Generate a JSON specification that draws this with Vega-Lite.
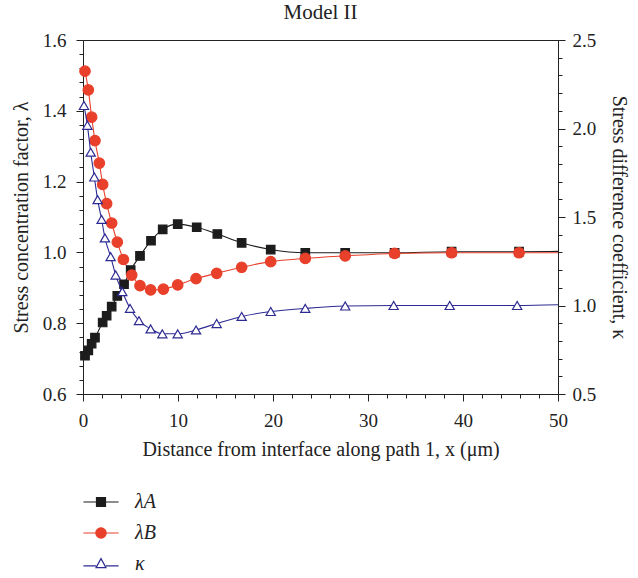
{
  "$schema": "https://vega.github.io/schema/vega-lite/v6.json",
  "width": 475,
  "height": 354,
  "autosize": {"type": "none"},
  "padding": {"left": 83, "top": 40, "right": 80, "bottom": 184},
  "background": "white",
  "title": {"text": "Model II", "font": "Liberation Serif", "fontSize": 21, "fontWeight": "normal", "color": "#222", "anchor": "middle", "offset": 8},
  "config": {
    "view": {"stroke": "#222", "strokeWidth": 1},
    "axis": {"grid": false, "domainColor": "#222", "tickColor": "#222", "labelFont": "Liberation Serif", "labelFontSize": 19, "labelColor": "#222", "titleFont": "Liberation Serif", "titleFontSize": 20, "titleFontWeight": "normal", "titleColor": "#222"}
  },
  "datasets": {
    "curves": [
      {"series": "λA", "x": 0.21, "v": 0.708, "sampled": true},
      {"series": "λA", "x": 0.56, "v": 0.723, "sampled": true},
      {"series": "λA", "x": 0.91, "v": 0.742, "sampled": true},
      {"series": "λA", "x": 1.26, "v": 0.759, "sampled": true},
      {"series": "λA", "x": 2.07, "v": 0.802, "sampled": true},
      {"series": "λA", "x": 2.49, "v": 0.821, "sampled": true},
      {"series": "λA", "x": 3.02, "v": 0.847, "sampled": true},
      {"series": "λA", "x": 3.61, "v": 0.877, "sampled": true},
      {"series": "λA", "x": 4.32, "v": 0.910, "sampled": true},
      {"series": "λA", "x": 5.02, "v": 0.950, "sampled": true},
      {"series": "λA", "x": 6.0, "v": 0.990, "sampled": true},
      {"series": "λA", "x": 7.16, "v": 1.033, "sampled": true},
      {"series": "λA", "x": 8.39, "v": 1.065, "sampled": true},
      {"series": "λA", "x": 9.97, "v": 1.080, "sampled": true},
      {"series": "λA", "x": 11.97, "v": 1.071, "sampled": true},
      {"series": "λA", "x": 14.14, "v": 1.052, "sampled": true},
      {"series": "λA", "x": 16.7, "v": 1.027, "sampled": true},
      {"series": "λA", "x": 19.76, "v": 1.008, "sampled": true},
      {"series": "λA", "x": 23.4, "v": 0.999, "sampled": true},
      {"series": "λA", "x": 27.6, "v": 0.999, "sampled": true},
      {"series": "λA", "x": 32.8, "v": 0.999, "sampled": true},
      {"series": "λA", "x": 38.8, "v": 1.002, "sampled": true},
      {"series": "λA", "x": 45.9, "v": 1.002, "sampled": true},
      {"series": "λA", "x": 50, "v": 1.003, "sampled": false},
      {"series": "λB", "x": 0.21, "v": 1.512, "sampled": true},
      {"series": "λB", "x": 0.56, "v": 1.459, "sampled": true},
      {"series": "λB", "x": 0.91, "v": 1.382, "sampled": true},
      {"series": "λB", "x": 1.26, "v": 1.316, "sampled": true},
      {"series": "λB", "x": 1.72, "v": 1.252, "sampled": true},
      {"series": "λB", "x": 2.07, "v": 1.192, "sampled": true},
      {"series": "λB", "x": 2.49, "v": 1.138, "sampled": true},
      {"series": "λB", "x": 3.02, "v": 1.083, "sampled": true},
      {"series": "λB", "x": 3.61, "v": 1.029, "sampled": true},
      {"series": "λB", "x": 4.25, "v": 0.980, "sampled": true},
      {"series": "λB", "x": 5.13, "v": 0.936, "sampled": true},
      {"series": "λB", "x": 6.0, "v": 0.906, "sampled": true},
      {"series": "λB", "x": 7.12, "v": 0.894, "sampled": true},
      {"series": "λB", "x": 8.46, "v": 0.896, "sampled": true},
      {"series": "λB", "x": 9.97, "v": 0.908, "sampled": true},
      {"series": "λB", "x": 11.9, "v": 0.926, "sampled": true},
      {"series": "λB", "x": 14.07, "v": 0.941, "sampled": true},
      {"series": "λB", "x": 16.7, "v": 0.958, "sampled": true},
      {"series": "λB", "x": 19.76, "v": 0.974, "sampled": true},
      {"series": "λB", "x": 23.4, "v": 0.983, "sampled": true},
      {"series": "λB", "x": 27.6, "v": 0.990, "sampled": true},
      {"series": "λB", "x": 32.8, "v": 0.997, "sampled": true},
      {"series": "λB", "x": 38.8, "v": 0.999, "sampled": true},
      {"series": "λB", "x": 45.9, "v": 0.999, "sampled": true},
      {"series": "λB", "x": 50, "v": 0.999, "sampled": false},
      {"series": "κ", "x": 0.1, "v": 2.13, "sampled": true},
      {"series": "κ", "x": 0.46, "v": 2.018, "sampled": true},
      {"series": "κ", "x": 0.81, "v": 1.866, "sampled": true},
      {"series": "κ", "x": 1.19, "v": 1.726, "sampled": true},
      {"series": "κ", "x": 1.54, "v": 1.598, "sampled": true},
      {"series": "κ", "x": 1.96, "v": 1.486, "sampled": true},
      {"series": "κ", "x": 2.31, "v": 1.382, "sampled": true},
      {"series": "κ", "x": 2.91, "v": 1.276, "sampled": true},
      {"series": "κ", "x": 3.44, "v": 1.172, "sampled": true},
      {"series": "κ", "x": 4.14, "v": 1.078, "sampled": true},
      {"series": "κ", "x": 4.95, "v": 0.984, "sampled": true},
      {"series": "κ", "x": 5.89, "v": 0.914, "sampled": true},
      {"series": "κ", "x": 7.12, "v": 0.868, "sampled": true},
      {"series": "κ", "x": 8.35, "v": 0.840, "sampled": true},
      {"series": "κ", "x": 9.97, "v": 0.840, "sampled": true},
      {"series": "κ", "x": 11.9, "v": 0.862, "sampled": true},
      {"series": "κ", "x": 14.07, "v": 0.898, "sampled": true},
      {"series": "κ", "x": 16.7, "v": 0.938, "sampled": true},
      {"series": "κ", "x": 19.76, "v": 0.966, "sampled": true},
      {"series": "κ", "x": 23.4, "v": 0.984, "sampled": true},
      {"series": "κ", "x": 27.6, "v": 0.997, "sampled": true},
      {"series": "κ", "x": 32.7, "v": 1.0, "sampled": true},
      {"series": "κ", "x": 38.6, "v": 1.0, "sampled": true},
      {"series": "κ", "x": 45.7, "v": 1.0, "sampled": true},
      {"series": "κ", "x": 50, "v": 1.004, "sampled": false}
    ]
  },
  "data": {"name": "curves"},
  "encoding": {
    "x": {"field": "x", "type": "quantitative", "scale": {"domain": [0, 50], "nice": false, "zero": false},
      "axis": {"title": "Distance from interface along path 1, x (μm)", "values": [0,2,4,6,8,10,12,14,16,18,20,22,24,26,28,30,32,34,36,38,40,42,44,46,48,50],
        "labelOverlap": false, "labelBound": false, "labelFlush": false,
        "labelExpr": "datum.value % 10 === 0 ? datum.label : ''", "tickSize": {"condition": {"test": "datum.value % 10 === 0", "value": 7}, "value": 4}, "labelPadding": 10, "titlePadding": 9}},
    "color": {"field": "series", "type": "nominal", "scale": {"domain": ["λA", "λB", "κ"], "range": ["#1c1c1c", "#e8402b", "#2d2a92"]},
      "legend": {"orient": "none", "legendX": 8, "legendY": 452, "direction": "vertical", "title": null,
        "symbolSize": 81, "symbolStrokeWidth": 1.2, "rowPadding": 11, "labelOffset": 24,
        "labelFont": "Liberation Serif", "labelFontSize": 20, "labelFontStyle": "italic", "labelColor": "#222",
        "encode": {"symbols": {"update": {
          "shape": {"signal": "datum.value === 'λA' ? 'M-3.9,0H-1M1,0H3.9M-1,-1H1V1H-1Z' : datum.value === 'λB' ? 'M-3.9,0H-1.15M1.15,0H3.9M-1.15,0A1.15,1.15,0,1,0,1.15,0A1.15,1.15,0,1,0,-1.15,0Z' : 'M-3.9,0.4H-1.1M1.1,0.4H3.9M0,-1.2L1.1,0.8H-1.1Z'"},
          "fill": {"signal": "datum.value === 'κ' ? '#ffffff' : datum.value === 'λB' ? '#e8402b' : '#1c1c1c'"},
          "stroke": {"signal": "datum.value === 'κ' ? '#2d2a92' : datum.value === 'λB' ? '#e8402b' : '#1c1c1c'"},
          "strokeWidth": {"value": 1.2}
        }}}
      }}
  },
  "layer": [
    {
      "transform": [{"filter": "datum.series !== 'κ'"}],
      "encoding": {
        "y": {"field": "v", "type": "quantitative", "scale": {"domain": [0.6, 1.6], "nice": false, "zero": false},
          "axis": {"title": "Stress concentration factor, λ", "format": ".1f", "labelOverlap": false, "labelBound": false, "labelFlush": false,
            "values": [0.6,0.64,0.68,0.72,0.76,0.8,0.84,0.88,0.92,0.96,1.0,1.04,1.08,1.12,1.16,1.2,1.24,1.28,1.32,1.36,1.4,1.44,1.48,1.52,1.56,1.6],
            "labelExpr": "abs(datum.value*5 - round(datum.value*5)) < 0.001 ? datum.label : ''",
            "tickSize": {"condition": {"test": "abs(datum.value*5 - round(datum.value*5)) < 0.001", "value": 7}, "value": 4}, "labelPadding": 10, "titlePadding": 11}}
      },
      "layer": [
        {"mark": {"type": "line", "interpolate": "monotone", "strokeWidth": 1.1}},
        {"transform": [{"filter": "datum.sampled"}],
          "mark": {"type": "point", "opacity": 1, "strokeWidth": 1.2},
          "encoding": {
            "shape": {"condition": [{"test": "datum.series === 'λA'", "value": "square"}, {"test": "datum.series === 'λB'", "value": "circle"}], "value": "triangle-up"},
            "fill": {"condition": [{"test": "datum.series === 'λA'", "value": "#1c1c1c"}, {"test": "datum.series === 'λB'", "value": "#e8402b"}], "value": "#ffffff"},
            "size": {"condition": [{"test": "datum.series === 'λA'", "value": 72}, {"test": "datum.series === 'λB'", "value": 110}], "value": 85}
          }}
      ]
    },
    {
      "transform": [{"filter": "datum.series === 'κ'"}],
      "encoding": {
        "y": {"field": "v", "type": "quantitative", "scale": {"domain": [0.5, 2.5], "nice": false, "zero": false},
          "axis": {"orient": "right", "title": "Stress difference coefficient, κ", "format": ".1f", "labelOverlap": false, "labelBound": false, "labelFlush": false,
            "values": [0.5,0.6,0.7,0.8,0.9,1.0,1.1,1.2,1.3,1.4,1.5,1.6,1.7,1.8,1.9,2.0,2.1,2.2,2.3,2.4,2.5],
            "labelExpr": "abs(datum.value*2 - round(datum.value*2)) < 0.001 ? datum.label : ''",
            "tickSize": {"condition": {"test": "abs(datum.value*2 - round(datum.value*2)) < 0.001", "value": 7}, "value": 4}, "labelPadding": 7, "titlePadding": 13}}
      },
      "layer": [
        {"mark": {"type": "line", "interpolate": "monotone", "strokeWidth": 1.1}},
        {"transform": [{"filter": "datum.sampled"}],
          "mark": {"type": "point", "opacity": 1, "strokeWidth": 1.2},
          "encoding": {
            "shape": {"value": "triangle-up"},
            "fill": {"value": "#ffffff"},
            "size": {"value": 85}
          }}
      ]
    }
  ],
  "resolve": {"scale": {"y": "independent"}, "axis": {"y": "independent"}}
}
